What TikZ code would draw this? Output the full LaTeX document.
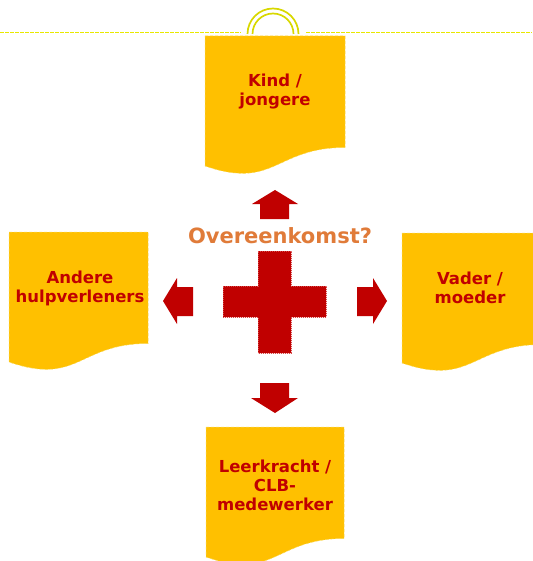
\documentclass[tikz,border=0pt]{standalone}
\usepackage{fontspec}
\newfontfamily\vfont{DejaVu Sans}
\definecolor{docyellow}{HTML}{FFC000}
\definecolor{docedge}{HTML}{F8D850}
\definecolor{darkred}{HTML}{C00000}
\definecolor{crossedge}{HTML}{D84848}
\definecolor{linelime}{HTML}{E8E800}
\definecolor{arclime}{HTML}{D8D800}
\definecolor{orangetxt}{HTML}{E07B39}
\tikzset{
  docstyle/.style={fill=docyellow,draw=docedge,densely dashed,line width=0.5pt},
  doctext/.style={font=\vfont\bfseries\fontsize{16.5}{19}\selectfont,text=darkred,align=center,inner sep=0pt},
  blockarrow/.style={fill=darkred},
  crossstyle/.style={fill=darkred,draw=crossedge,dash pattern=on 1pt off 1pt,line width=0.4pt},
  topline/.style={draw=linelime,line width=1.4pt,dash pattern=on 3.5pt off 1.5pt},
  handle/.style={draw=arclime,line width=1.7pt}
}
\newcommand\dshape[3]{\path[docstyle] (#1,#2) -- ++(#3,0) -- ++(0,111.5) .. controls +(-0.5*#3,0) and +(0.5*#3,24) .. (#1,#2+130) -- cycle;}
\begin{document}
\begin{tikzpicture}[x=1pt,y=-1pt]
\useasboundingbox (0,0) rectangle (532,561);
% top dashed line and handle
\coordinate (l0) at (0,32.5);
\coordinate (l1) at (241,32.5);
\coordinate (r0) at (306,32.5);
\coordinate (r1) at (532,32.5);
\draw[topline] (l0) -- (l1);
\draw[topline] (r0) -- (r1);
\draw[handle] (247.5,34) arc[start angle=180,end angle=0,radius=25.5pt];
\draw[handle] (252.5,34) arc[start angle=180,end angle=0,radius=20.5pt];
% documents
\dshape{205}{36}{140}
\dshape{9}{232}{139}
\dshape{402}{233}{140}
\dshape{206}{427}{138}
\node[doctext] (kind) at (275,92) {Kind /\\jongere};
\node[doctext] (andere) at (80,288) {Andere\\hulpverleners};
\node[doctext] (vader) at (470,288) {Vader /\\moeder};
\node[doctext] (leer) at (275,485) {Leerkracht /\\CLB-\\medewerker};
% title
\node[font=\vfont\bfseries\fontsize{21}{24}\selectfont,text=orangetxt,anchor=base,inner sep=0pt] (title) at (280,243) {Overeenkomst?};
% cross
\path[crossstyle] (258,251) -- (291,251) -- (291,286) -- (326,286) -- (326,317) -- (291,317) -- (291,353) -- (258,353) -- (258,317) -- (223,317) -- (223,286) -- (258,286) -- cycle;
% block arrows
\fill[blockarrow] (275,190) -- (298,204) -- (289,204) -- (289,219) -- (260,219) -- (260,204) -- (252,204) -- cycle;
\fill[blockarrow] (275,413) -- (298,398) -- (289,398) -- (289,383) -- (260,383) -- (260,398) -- (251,398) -- cycle;
\fill[blockarrow] (163,301) -- (177,278) -- (177,287) -- (193,287) -- (193,316) -- (177,316) -- (177,324) -- cycle;
\fill[blockarrow] (387,301) -- (373,278) -- (373,287) -- (357,287) -- (357,316) -- (373,316) -- (373,324) -- cycle;
\end{tikzpicture}
\end{document}
